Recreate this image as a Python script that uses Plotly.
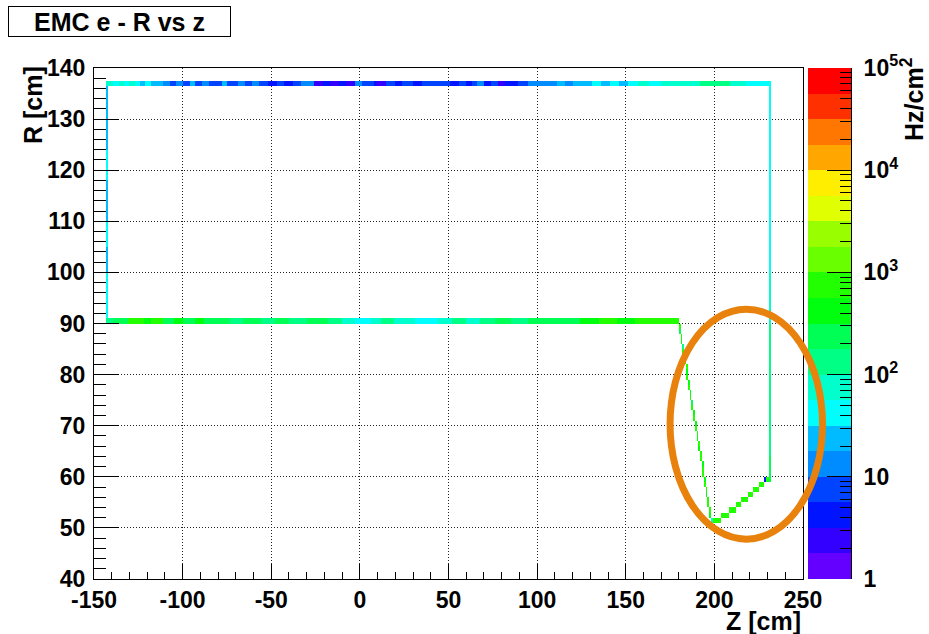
import numpy as np
import plotly.graph_objects as go

# ---------------------------------------------------------------
# Histogram binning (cm)
# ---------------------------------------------------------------
Z_MIN, Z_MAX, Z_BIN = -150.0, 250.0, 1.0
R_MIN, R_MAX, R_BIN = 40.0, 140.0, 0.5

# Colour axis: rate in Hz/cm^2, log scale 1 .. 1e5
RATE_MIN, RATE_MAX = 1.0, 1.0e5
CBAR_TICK_VALUES = [1, 10, 100, 1000, 10000, 100000]
CBAR_TICK_TEXT = ["1", "10", "10<sup>2</sup>", "10<sup>3</sup>", "10<sup>4</sup>", "10<sup>5</sup>"]

X_TICKS = [-150, -100, -50, 0, 50, 100, 150, 200, 250]
Y_TICKS = [40, 50, 60, 70, 80, 90, 100, 110, 120, 130, 140]

# ---------------------------------------------------------------
# Rates along the calorimeter outline
# ---------------------------------------------------------------
# outer barrel surface (R 136.5-137.5): (z from, z to, rate)
OUTER_R = (136.5, 137.5)
outer_runs = [
    (-143, -139, 75), (-139, -136, 42), (-136, -133, 75), (-133, -130, 42),
    (-130, -127, 60), (-127, -124, 42), (-124, -121, 24), (-121, -118, 42),
    (-118, -115, 24), (-115, -111, 30), (-111, -107, 13), (-107, -104, 7.5),
    (-104, -100, 13), (-100, -96, 7), (-96, -93, 24), (-93, -89, 8),
    (-89, -85, 13), (-85, -82, 6), (-82, -78, 9), (-78, -75, 24),
    (-75, -69, 7), (-69, -65, 12), (-65, -61, 7), (-61, -57, 14),
    (-57, -52, 6), (-52, -47, 4), (-47, -43, 8), (-43, -38, 5),
    (-38, -33, 7), (-33, -26, 14), (-26, -21, 2.5), (-21, -17, 4.2),
    (-17, -12, 2.2), (-12, -8, 4), (-8, -3, 2.4), (-3, 1, 13),
    (1, 8, 6), (8, 9, 4), (9, 15, 2.3), (15, 20, 7), (20, 24, 4),
    (24, 30, 7.5), (30, 35, 5), (35, 40, 8), (40, 45, 6), (45, 51, 8),
    (51, 56, 3.5), (56, 60, 7), (60, 63, 3.5), (63, 66, 8), (66, 70, 14),
    (70, 74, 4), (74, 78, 6), (78, 82, 3), (82, 85, 5), (85, 89, 3.5),
    (89, 95, 8), (95, 100, 12), (100, 105, 15), (105, 111, 11),
    (111, 116, 24), (116, 120, 16), (120, 125, 30), (125, 131, 20),
    (131, 136, 35), (136, 141, 25), (141, 146, 45), (146, 151, 30),
    (151, 157, 45), (157, 163, 65), (163, 170, 45), (170, 177, 70),
    (177, 183, 80), (183, 192, 90), (192, 198, 120), (198, 204, 150),
    (204, 209, 130), (209, 214, 90), (214, 218, 75), (218, 232, 45),
]

# inner barrel surface (R 90-91): (z from, z to, rate)
INNER_R = (90.0, 91.0)
inner_runs = [
    (-143, -139, 150), (-139, -131, 240), (-131, -127, 600), (-127, -122, 800),
    (-122, -118, 500), (-118, -111, 750), (-111, -105, 300), (-105, -100, 450),
    (-100, -93, 280), (-93, -88, 380), (-88, -80, 220), (-80, -73, 260),
    (-73, -66, 170), (-66, -56, 230), (-56, -48, 150), (-48, -40, 220),
    (-40, -30, 140), (-30, -18, 200), (-18, -10, 110), (-10, -3, 75),
    (-3, 6, 45), (6, 12, 80), (12, 19, 100), (19, 24, 60), (24, 31, 90),
    (31, 44, 42), (44, 52, 80), (52, 60, 110), (60, 68, 90), (68, 76, 140),
    (76, 85, 180), (85, 95, 140), (95, 105, 220), (105, 115, 260),
    (115, 124, 200), (124, 135, 500), (135, 145, 650), (145, 155, 450),
    (155, 170, 750), (170, 180, 600),
]

# backward end cap (z -143..-142): (R from, R to, rate)
BACK_Z = (-143.0, -142.0)
back_runs = [
    (91, 100, 42), (100, 105, 30), (105, 110, 45), (110, 118, 25),
    (118, 124, 35), (124, 136.5, 20),
]

# forward end cap (z 231..232): (R from, R to, rate)
FWD_Z = (231.0, 232.0)
fwd_runs = [
    (59, 64, 300), (64, 72, 170), (72, 80, 130), (80, 90, 110),
    (90, 100, 70), (100, 115, 50), (115, 136.5, 40),
]

# conical section, one 1-cm row of R per entry
cone_r = [89, 88, 87, 86, 85, 84, 83, 82, 81, 80, 79, 78, 77, 76, 75, 74, 73,
          72, 71, 70, 69, 68, 67, 66, 65, 64, 63, 62, 61, 60, 59, 58, 57, 56,
          55, 54, 53, 52, 51]
cone_z = [180, 180, 181, 181, 182, 182, 183, 183, 184, 184, 184, 185, 185,
          186, 186, 187, 187, 188, 188, 189, 189, 190, 190, 191, 191, 192,
          192, 193, 193, 193, 194, 194, 195, 195, 196, 196, 197, 197, 198]
cone_rate = [600, 300, 700, 520, 150, 650, 480, 750, 620, 380, 700, 560, 800,
             460, 650, 300, 720, 560, 780, 420, 680, 600, 360, 740, 520, 660,
             800, 460, 700, 580, 320, 760, 640, 520, 800, 700, 600, 450, 60]

# forward inner slope, staircase rows: (R row, z from, z to, rate)
slope_runs = [
    (51, 199, 204, 700), (52, 204, 208, 800), (53, 208, 212, 650),
    (54, 212, 215, 750), (55, 215, 219, 600), (56, 219, 222, 700),
    (57, 222, 225, 800), (58, 225, 228, 650), (59, 228, 229, 4),
    (59, 229, 231, 700),
]

# ---------------------------------------------------------------
# Fill the 2D histogram
# ---------------------------------------------------------------
z_edges = np.arange(Z_MIN, Z_MAX + Z_BIN / 2, Z_BIN)
r_edges = np.arange(R_MIN, R_MAX + R_BIN / 2, R_BIN)
zc = 0.5 * (z_edges[:-1] + z_edges[1:])
rc = 0.5 * (r_edges[:-1] + r_edges[1:])
grid = np.full((rc.size, zc.size), np.nan)


def fill(z0, z1, r0, r1, rate):
    zi = (zc >= z0) & (zc < z1)
    ri = (rc >= r0) & (rc < r1)
    grid[np.ix_(ri, zi)] = np.log10(rate)


for z0, z1, rate in outer_runs:
    fill(z0, z1, *OUTER_R, rate)
for z0, z1, rate in inner_runs:
    fill(z0, z1, *INNER_R, rate)
for r0, r1, rate in back_runs:
    fill(*BACK_Z, r0, r1, rate)
for r0, r1, rate in fwd_runs:
    fill(*FWD_Z, r0, r1, rate)
for r, z, rate in zip(cone_r, cone_z, cone_rate):
    fill(z, z + 1, r, r + 1, rate)
for r, z0, z1, rate in slope_runs:
    fill(z0, z1, r, r + 1, rate)

# ---------------------------------------------------------------
# Palette: 20 discrete contour colours, violet -> red
# ---------------------------------------------------------------
PALETTE = ["#6300FF", "#3300FF", "#0014FF", "#0044FF", "#008BFF",
           "#00BBFF", "#00FFFC", "#00FFCC", "#00FF85", "#00FF55",
           "#00FF0E", "#22FF00", "#69FF00", "#99FF00", "#E0FF00",
           "#FFEE00", "#FFA700", "#FF7700", "#FF3000", "#FF0000"]
n = len(PALETTE)
colorscale = []
for i, c in enumerate(PALETTE):
    colorscale.append([i / n, c])
    colorscale.append([(i + 1) / n, c])

LMIN, LMAX = np.log10(RATE_MIN), np.log10(RATE_MAX)

# ---------------------------------------------------------------
# Page geometry (pixels)
# ---------------------------------------------------------------
W, H = 929, 634
FRAME_L, FRAME_R, FRAME_T, FRAME_B = 94, 803, 68, 579
CBAR_L, CBAR_R = 808, 851

xdom = [FRAME_L / W, FRAME_R / W]
ydom = [1 - FRAME_B / H, 1 - FRAME_T / H]
cdom = [CBAR_L / W, CBAR_R / W]

FONT = "Liberation Sans, Arial, Helvetica, sans-serif"
tick_font = dict(family=FONT, size=23, color="black", weight="bold")
title_font = dict(family=FONT, size=25, color="black", weight="bold")

fig = go.Figure()

fig.add_trace(go.Heatmap(
    x=zc, y=rc, z=grid,
    colorscale=colorscale, zmin=LMIN, zmax=LMAX, zsmooth=False,
    showscale=False, hoverongaps=False,
    xaxis="x", yaxis="y",
))

# palette axis drawn as its own strip
band_edges = np.linspace(LMIN, LMAX, n + 1)
band_mid = 0.5 * (band_edges[:-1] + band_edges[1:])
fig.add_trace(go.Heatmap(
    x=[0.5], y=band_mid, z=band_mid.reshape(-1, 1),
    colorscale=colorscale, zmin=LMIN, zmax=LMAX, zsmooth=False,
    showscale=False, hoverinfo="skip",
    xaxis="x2", yaxis="y2",
))

minor_log = [np.log10(k * 10 ** d) for d in range(int(LMIN), int(LMAX)) for k in range(2, 10)]

grid_style = dict(showgrid=True, gridcolor="#222222", gridwidth=1, griddash="1px,2px")

fig.update_layout(
    width=W, height=H,
    margin=dict(l=0, r=0, t=0, b=0, pad=0, autoexpand=False),
    paper_bgcolor="white", plot_bgcolor="white",
    showlegend=False,
    xaxis=dict(
        domain=xdom, anchor="y", range=[Z_MIN, Z_MAX], automargin=False,
        tickmode="array", tickvals=X_TICKS, ticktext=[str(v) for v in X_TICKS],
        ticks="inside", ticklen=15, tickwidth=1, tickcolor="black",
        minor=dict(dtick=10, tick0=0, ticks="inside", ticklen=7, tickcolor="black", showgrid=False),
        showline=True, linecolor="black", linewidth=1, mirror=True,
        zeroline=False, tickfont=tick_font, ticklabelstandoff=0,
        **grid_style,
    ),
    yaxis=dict(
        domain=ydom, anchor="x", range=[R_MIN, R_MAX], automargin=False,
        tickmode="array", tickvals=Y_TICKS, ticktext=[str(v) for v in Y_TICKS],
        ticks="inside", ticklen=25, tickwidth=1, tickcolor="black",
        minor=dict(dtick=2, tick0=0, ticks="inside", ticklen=12, tickcolor="black", showgrid=False),
        showline=True, linecolor="black", linewidth=1, mirror=True,
        zeroline=False, tickfont=tick_font, ticklabelstandoff=3,
        **grid_style,
    ),
    xaxis2=dict(
        domain=cdom, anchor="y2", range=[0, 1], automargin=False,
        showticklabels=False, ticks="", showgrid=False, zeroline=False,
        showline=False, fixedrange=True,
    ),
    yaxis2=dict(
        domain=ydom, anchor="x2", side="right", range=[LMIN, LMAX], automargin=False,
        tickmode="array", tickvals=[np.log10(v) for v in CBAR_TICK_VALUES],
        ticktext=CBAR_TICK_TEXT,
        ticks="inside", ticklen=24, tickwidth=1, tickcolor="black",
        minor=dict(tickmode="array", tickvals=minor_log, ticks="inside",
                   ticklen=11, tickcolor="black", showgrid=False),
        showline=True, linecolor="black", linewidth=1,
        showgrid=False, zeroline=False, fixedrange=True,
        tickfont=tick_font, ticklabelstandoff=7,
    ),
)

# highlighted forward region (ring bounds in cm)
RING_Z = (175.0, 261.0)
RING_R = (47.8, 92.8)
fig.add_shape(
    type="circle", xref="x domain", yref="y domain",
    x0=(RING_Z[0] - Z_MIN) / (Z_MAX - Z_MIN), x1=(RING_Z[1] - Z_MIN) / (Z_MAX - Z_MIN),
    y0=(RING_R[0] - R_MIN) / (R_MAX - R_MIN), y1=(RING_R[1] - R_MIN) / (R_MAX - R_MIN),
    line=dict(color="#E8820C", width=7), layer="above",
)

# title box and axis titles
fig.add_annotation(
    text="EMC e - R vs z", xref="paper", yref="paper",
    x=8 / W, y=1 - 6 / H, xanchor="left", yanchor="top",
    showarrow=False, font=title_font,
    bordercolor="black", borderwidth=1, borderpad=2, bgcolor="white",
    width=217, height=25, align="center", valign="middle",
)
fig.add_annotation(
    text="R [cm]", xref="paper", yref="paper",
    x=33 / W, y=1 - 64 / H, xanchor="center", yanchor="top",
    textangle=-90, showarrow=False, font=title_font,
)
fig.add_annotation(
    text="Z [cm]", xref="paper", yref="paper",
    x=FRAME_R / W, y=1 - 621 / H, xanchor="right", yanchor="middle",
    showarrow=False, font=title_font,
)
fig.add_annotation(
    text="Hz/cm<sup>2</sup>", xref="paper", yref="paper",
    x=912 / W, y=1 - 55 / H, xanchor="center", yanchor="top",
    textangle=-90, showarrow=False, font=title_font,
)

fig.write_html("out.html")
